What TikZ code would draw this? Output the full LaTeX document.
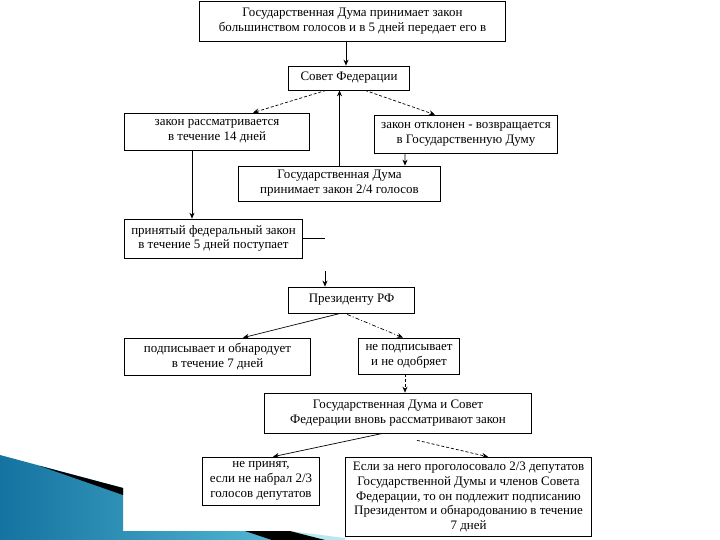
\documentclass[tikz,border=0pt]{standalone}
\usepackage{fontspec}
\setmainfont{Liberation Serif}
\usepackage{tikz}
\usetikzlibrary{arrows.meta, positioning, calc}
\definecolor{mydark}{RGB}{0,0,0}
\definecolor{swblue}{RGB}{20,115,160}
\definecolor{swlight}{RGB}{95,195,220}
\definecolor{swpale}{RGB}{185,232,242}
\tikzset{
  block/.style={rectangle, draw=mydark, fill=white, align=center,
    inner sep=0pt, line width=0.8pt,
    font=\fontsize{13}{14.8}\selectfont},
  arrow/.style={-{Stealth[length=6pt, width=5pt]}, line width=0.7pt, color=mydark},
  dasharrow/.style={arrow, dash pattern=on 3pt off 2pt},
  dotarrow/.style={arrow, dash pattern=on 1pt off 2pt on 4pt off 2pt},
  line/.style={line width=0.7pt, color=mydark}
}

\begin{document}
\begin{tikzpicture}[x=1bp, y=-1bp]
  \useasboundingbox (0,0) rectangle (720,540);

  % Slide decoration, bottom left
  \shade[left color=swblue, right color=swlight] (0,455) -- (123,488) -- (123,531) -- (245,531) -- (330,540) -- (0,540) -- cycle;
  \fill[swpale] (290,531) -- (345,538) -- (345,540) -- (325,540) -- cycle;
  \fill[black] (40,466) -- (123,488) -- (123,495) -- cycle;
  \fill[black] (245,531) -- (290,531) -- (325,540) -- (272,540) -- cycle;

  % Boxes
  \node[block, minimum width=307, minimum height=40] (duma1) at (352.5,21)
    {Государственная Дума принимает закон\\большинством голосов и в 5 дней передает его в};
  \node[block, minimum width=122, minimum height=24] (sovet) at (349,78) {Совет Федерации};
  \node[block, minimum width=186, minimum height=37] (rassm) at (217,131.5)
    {закон рассматривается\\в течение 14 дней};
  \node[block, minimum width=184, minimum height=38] (otkl) at (466,134)
    {закон отклонен - возвращается\\в Государственную Думу};
  \node[block, minimum width=203, minimum height=35] (duma24) at (339.5,183.5)
    {Государственная Дума\\принимает закон 2/4 голосов};
  \node[block, minimum width=179, minimum height=39] (prinyat) at (213.5,238.5)
    {принятый федеральный закон\\в течение 5 дней поступает};
  \node[block, minimum width=127, minimum height=26] (prez) at (351.5,300) {Президенту РФ};
  \node[block, minimum width=187, minimum height=37] (podp) at (217.5,356.5)
    {подписывает и обнародует\\в течение 7 дней};
  \node[block, minimum width=102, minimum height=36] (nepodp) at (409,356)
    {не подписывает\\и не одобряет};
  \node[block, minimum width=268, minimum height=40] (dumasovet) at (398,413)
    {Государственная Дума и Совет\\Федерации вновь рассматривают закон};
  \node[block, minimum width=118, minimum height=48] (neprin) at (261,481)
    {не принят,\\если не набрал 2/3\\голосов депутатов};
  \node[block, minimum width=247, minimum height=80] (esli) at (468.5,497)
    {Если за него проголосовало 2/3 депутатов\\Государственной Думы и членов Совета\\Федерации, то он подлежит подписанию\\Президентом и обнародованию в течение\\7 дней};

  % Free ends
  \coordinate (prEnd) at (325,240);
  \coordinate (prTop) at (325,271);

  % Connectors
  \draw[arrow] ($(duma1.south)+(-6.5,0)$) -- ($(sovet.north)+(-3,0)$);
  \draw[arrow] (duma24.north) -- (duma24.north |- sovet.south);
  \draw[dasharrow] ($(sovet.south)+(-23,0)$) -- ($(rassm.north)+(36,0)$);
  \draw[dasharrow] ($(sovet.south)+(16,0)$) -- ($(otkl.north)+(-31,0)$);
  \draw[arrow] ($(otkl.south)+(-61,0)$) -- ($(duma24.north)+(65.5,0)$);
  \draw[arrow] ($(rassm.south)+(-25,0)$) -- ($(prinyat.north)+(-21.5,0)$);
  \draw[line] (prinyat.east) -- (prinyat.east -| prEnd);
  \draw[arrow] (prTop) -- (prTop |- prez.north);
  \draw[arrow] ($(prez.south)+(-11,0)$) -- ($(podp.north)+(25.5,0)$);
  \draw[dotarrow] ($(prez.south)+(-7,0)$) -- ($(nepodp.north)+(-6,0)$);
  \draw[dasharrow] ($(nepodp.south)+(-4,0)$) -- ($(dumasovet.north)+(7,0)$);
  \draw[arrow] ($(dumasovet.south)+(-15,0)$) -- ($(neprin.north)+(12,0)$);
  \draw[dasharrow] ($(dumasovet.south)+(19,7)$) -- ($(esli.north)+(19.5,0)$);
\end{tikzpicture}
\end{document}
